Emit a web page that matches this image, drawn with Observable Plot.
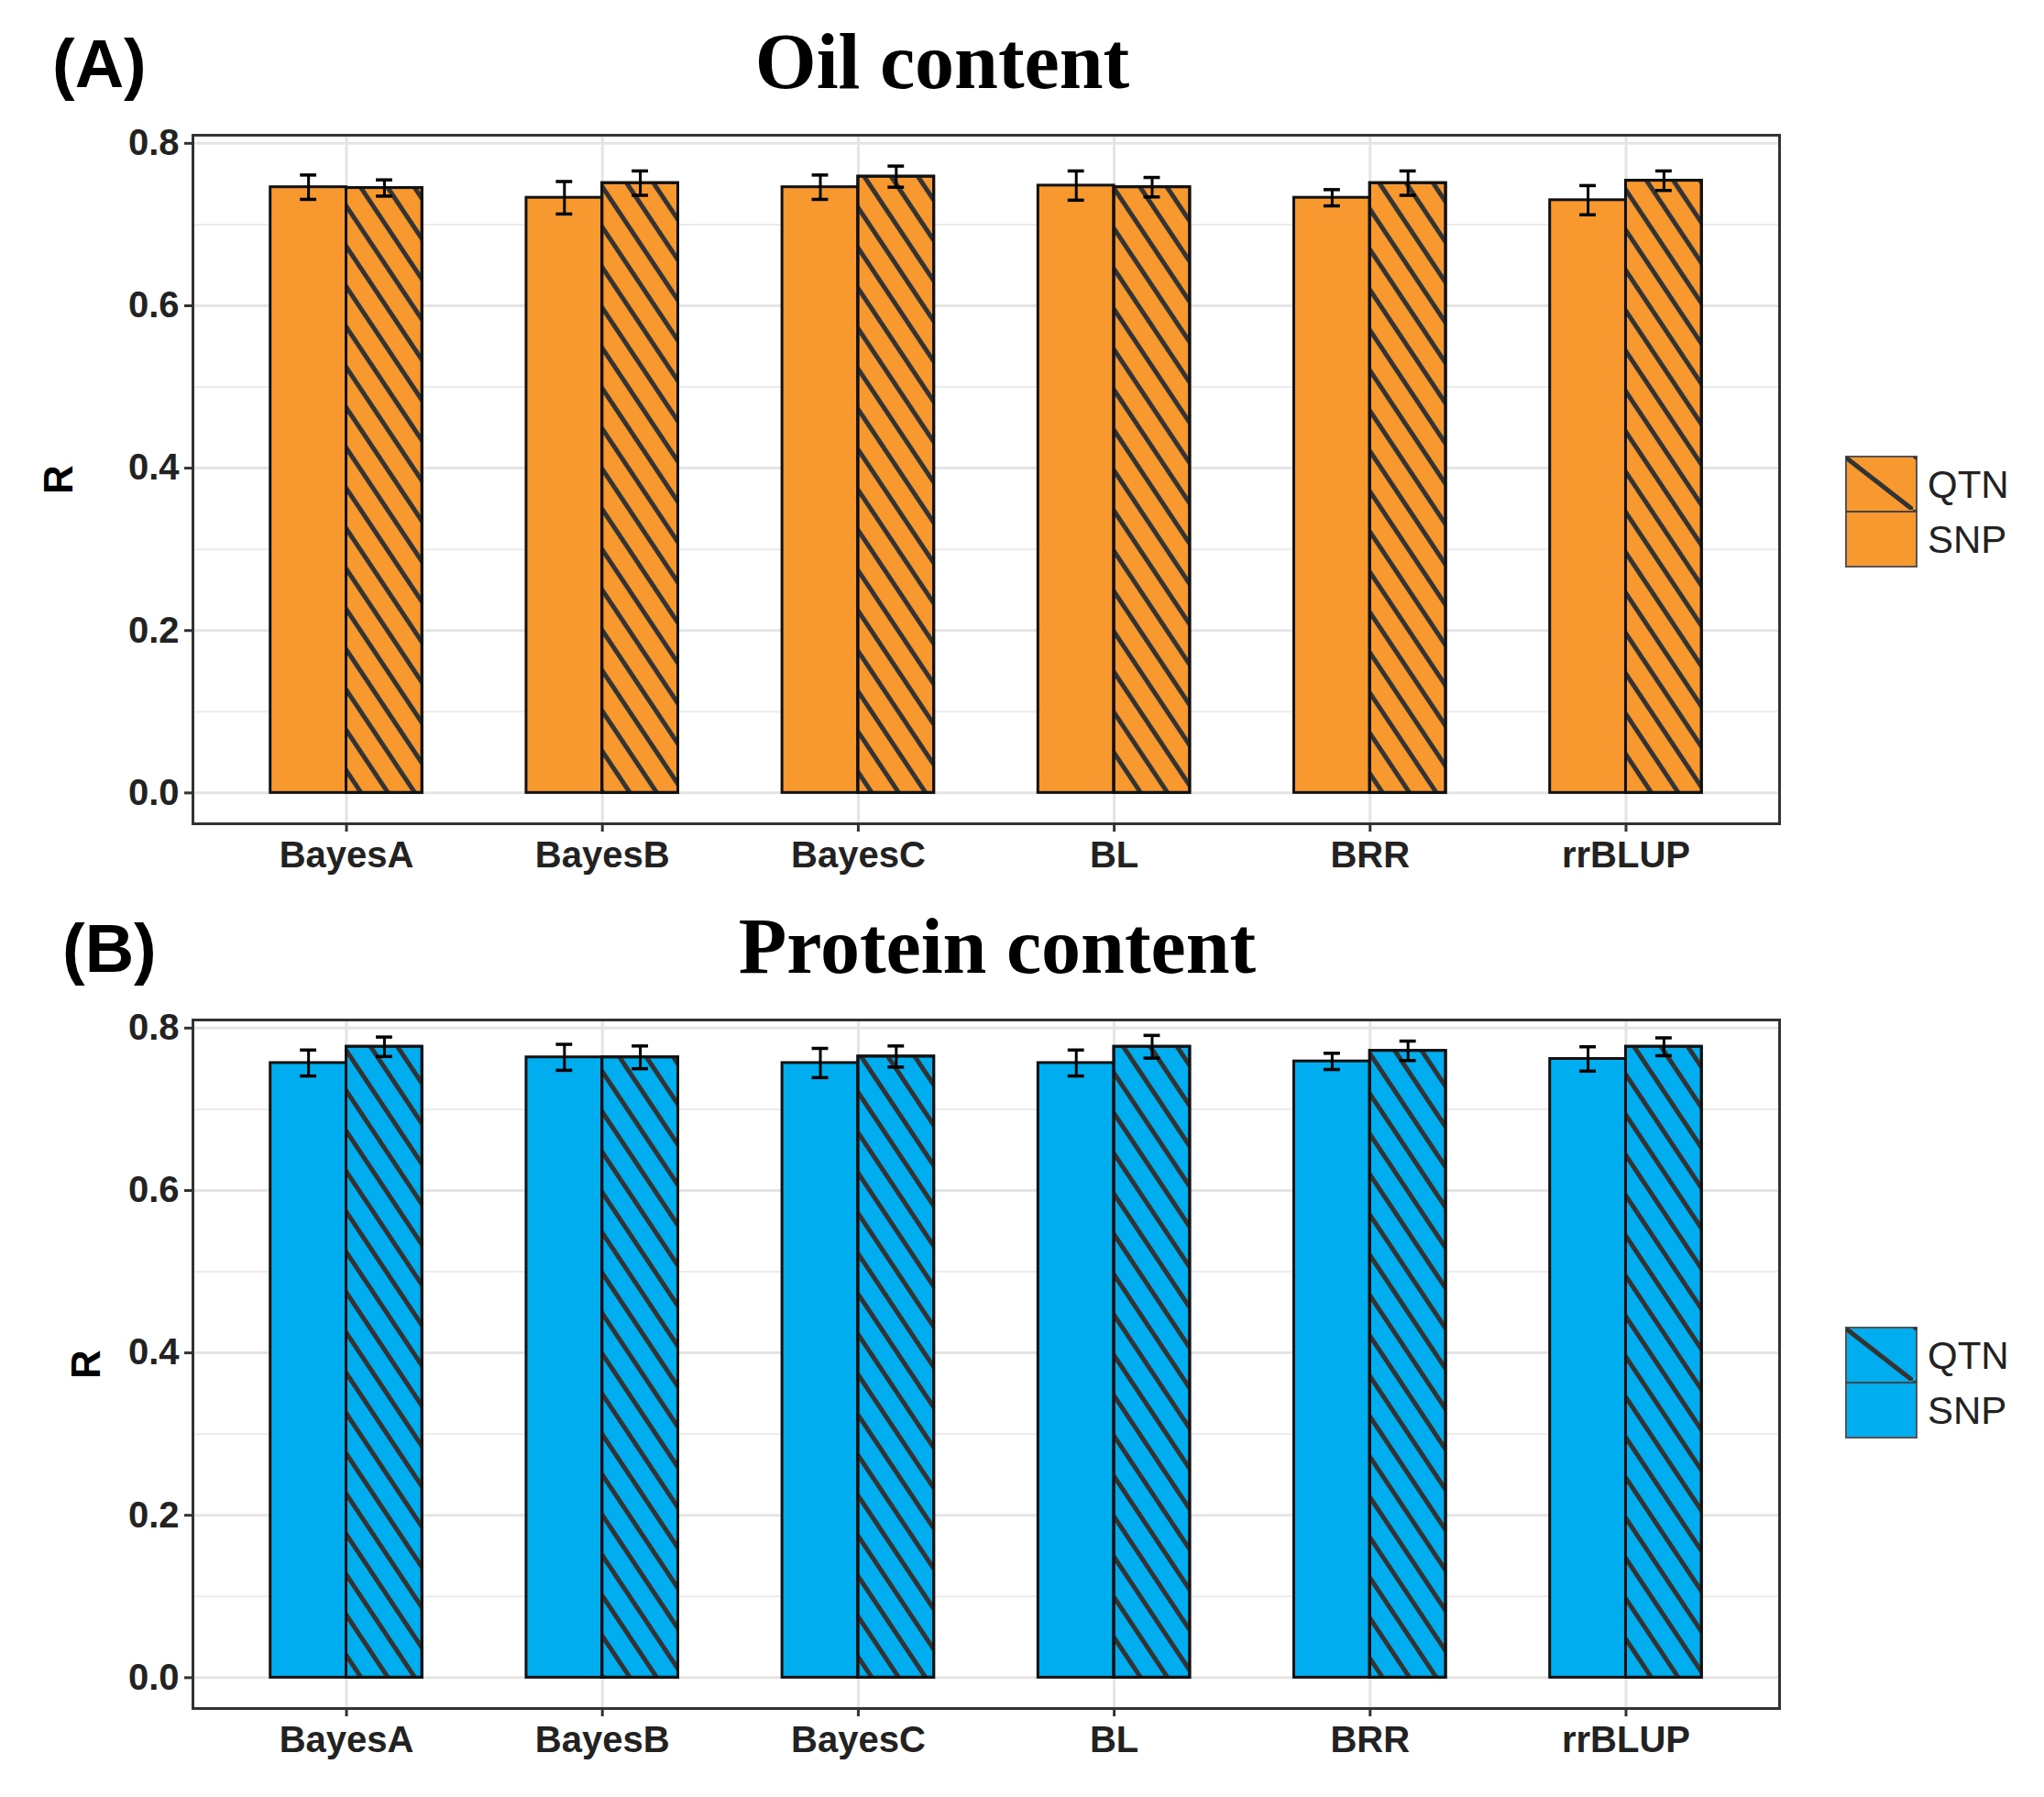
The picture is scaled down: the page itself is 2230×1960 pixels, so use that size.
<!DOCTYPE html>
<html><head><meta charset="utf-8">
<script src="https://cdn.jsdelivr.net/npm/d3@7"></script>
<script src="https://cdn.jsdelivr.net/npm/@observablehq/plot@0.6"></script>
<style>
body{margin:0;background:#fff;}
#wrap{position:relative;width:2230px;height:1960px;font-family:"Liberation Sans",Arial,sans-serif;}
.abs{position:absolute;}
.title{font-family:"Liberation Serif","Times New Roman",serif;font-weight:bold;font-size:86px;transform:translate(-50%,-50%);white-space:nowrap;}
.tag{font-weight:bold;font-size:74px;transform:translateY(-50%);}
</style></head><body><div id="wrap"></div>
<script>
const methods = ["BayesA","BayesB","BayesC","BL","BRR","rrBLUP"];
const markers = ["SNP","QTN"];
const oilSNP = [0.746,0.733,0.746,0.748,0.733,0.730];
const oilQTN = [0.745,0.751,0.759,0.746,0.751,0.754];
const oilSNPerr = [0.015,0.020,0.015,0.018,0.010,0.018];
const oilQTNerr = [0.010,0.015,0.013,0.012,0.015,0.012];
const protSNP = [0.757,0.764,0.757,0.757,0.759,0.762];
const protQTN = [0.777,0.764,0.765,0.777,0.772,0.777];
const protSNPerr = [0.016,0.016,0.018,0.016,0.010,0.015];
const protQTNerr = [0.012,0.014,0.013,0.014,0.012,0.011];
const yTicks = [0,0.2,0.4,0.6,0.8];

const wrap = document.getElementById("wrap");
const BW = 0.2965, CAP = 0.032;
function rows(snp,qtn,se,qe){
  const r=[];
  methods.forEach((m,i)=>{
    r.push({m,i:i+1,k:"SNP",v:snp[i],e:se[i],x1:i+1-BW,x2:i+1});
    r.push({m,i:i+1,k:"QTN",v:qtn[i],e:qe[i],x1:i+1,x2:i+1+BW});
  });
  return r;
}
function panel(data, color, top, title, tag, titleY, pid, legDy){
  const H=870, mT=27, mB=92, W=1985, mL=210, mR=44;
  const cx = d=>(d.x1+d.x2)/2;
  const chart = Plot.plot({
    width:W, height:H, marginTop:mT, marginBottom:mB, marginLeft:mL, marginRight:mR,
    style:{background:"transparent", fontFamily:"Liberation Sans, Arial, sans-serif"},
    x:{domain:[0.4,6.6], label:null},
    y:{domain:[-0.038,0.81], label:null},
    marks:[
      Plot.ruleY(d3.range(0.1,0.81,0.2),{stroke:"#ebebeb",strokeWidth:2}),
      Plot.ruleY(yTicks,{stroke:"#e4e4e4",strokeWidth:3}),
      Plot.ruleX(d3.range(1,7),{stroke:"#e4e4e4",strokeWidth:3}),
      Plot.rectY(data,{x1:"x1", x2:"x2", y1:0, y2:"v", fill:color, stroke:"#111", strokeWidth:3}),
      Plot.rectY(data.filter(d=>d.k==="QTN"),{x1:"x1", x2:"x2", y1:0, y2:"v", fill:`url(#hatch${pid})`, stroke:"#111", strokeWidth:3}),
      Plot.ruleX(data,{x:cx, y1:d=>d.v-d.e, y2:d=>d.v+d.e, stroke:"#000", strokeWidth:3}),
      Plot.ruleY(data,{x1:d=>cx(d)-CAP, x2:d=>cx(d)+CAP, y:d=>d.v-d.e, stroke:"#000", strokeWidth:3.5}),
      Plot.ruleY(data,{x1:d=>cx(d)-CAP, x2:d=>cx(d)+CAP, y:d=>d.v+d.e, stroke:"#000", strokeWidth:3.5}),
      Plot.axisY({ticks:yTicks, tickFormat:d3.format(".1f"), fontSize:40, fontWeight:"bold", tickSize:9, tickPadding:6, stroke:"#333", strokeWidth:3, label:null}),
      Plot.axisX({ticks:d3.range(1,7), tickFormat:i=>methods[i-1], fontSize:40, fontWeight:"bold", tickSize:9, tickPadding:10, stroke:"#333", strokeWidth:3, label:null}),
      Plot.frame({stroke:"#333", strokeWidth:3})
    ]
  });
  const svg = d3.select(chart);
  const defs = svg.insert("defs",":first-child");
  const p = defs.append("pattern").attr("id","hatch"+pid).attr("patternUnits","userSpaceOnUse").attr("width",20).attr("height",24.4).attr("patternTransform","rotate(56.3)");
  p.append("rect").attr("x",0).attr("y",0).attr("width",20).attr("height",24.4).attr("fill","none");
  p.append("line").attr("x1",0).attr("y1",12.2).attr("x2",20).attr("y2",12.2).attr("stroke","#333").attr("stroke-width",5);
  svg.selectAll("text").attr("fill","#222");
  chart.classList.add("abs"); chart.style.left="0px"; chart.style.top=top+"px";
  wrap.appendChild(chart);
  const t=document.createElement("div"); t.className="abs title"; t.textContent=title; t.style.left=(pid==="A"?1028:1088)+"px"; t.style.top=titleY+"px"; wrap.appendChild(t);
  const g=document.createElement("div"); g.className="abs tag"; g.textContent=tag; g.style.left=(pid==="A"?57:68)+"px"; g.style.top=(titleY+2)+"px"; wrap.appendChild(g);
  const r=document.createElement("div"); r.className="abs"; r.textContent="R"; r.style.cssText=`font-size:44px;font-weight:bold;left:${pid==="A"?48:78}px;top:${top+mT+(H-mT-mB)/2-25}px;transform:rotate(-90deg);`; wrap.appendChild(r);
  const ly = top + mT + (H-mT-mB)/2 - 63 + legDy;
  const lg = d3.select(wrap).append("svg").attr("class","abs").style("left","2010px").style("top",ly+"px").attr("width",210).attr("height",130);
  const ld = lg.append("defs").append("pattern").attr("id","lh"+pid).attr("patternUnits","userSpaceOnUse").attr("width",77).attr("height",60);
  ld.append("line").attr("x1",0).attr("y1",0).attr("x2",77).attr("y2",60).attr("stroke","#333").attr("stroke-width",5);
  lg.append("rect").attr("x",4).attr("y",2).attr("width",77).attr("height",60).attr("fill",color).attr("stroke","#555").attr("stroke-width",2);
  lg.append("rect").attr("x",4).attr("y",2).attr("width",77).attr("height",60).attr("fill",`url(#lh${pid})`);
  lg.append("rect").attr("x",4).attr("y",62).attr("width",77).attr("height",60).attr("fill",color).attr("stroke","#555").attr("stroke-width",2);
  lg.append("line").attr("x1",4).attr("y1",62).attr("x2",81).attr("y2",62).attr("stroke","#444").attr("stroke-width",2);
  lg.append("text").attr("x",93).attr("y",32).attr("dy","0.35em").attr("font-size",42).attr("fill","#222").text("QTN");
  lg.append("text").attr("x",93).attr("y",92).attr("dy","0.35em").attr("font-size",42).attr("fill","#222").text("SNP");
}
panel(rows(oilSNP,oilQTN,oilSNPerr,oilQTNerr), "#F7992F", 120, "Oil content", "(A)", 67, "A", 36);
panel(rows(protSNP,protQTN,protSNPerr,protQTNerr), "#00AEEF", 1085, "Protein content", "(B)", 1032, "B", 21);
</script></body></html>
